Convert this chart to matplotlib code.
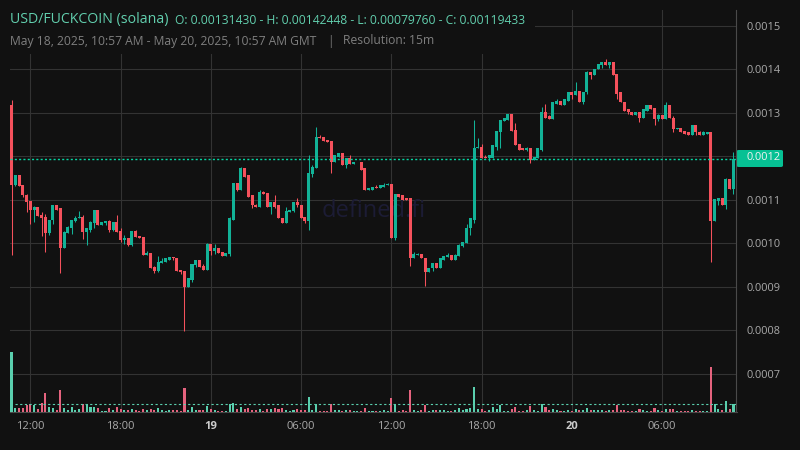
import numpy as np
import matplotlib
matplotlib.use("Agg")
import matplotlib.pyplot as plt
from matplotlib.patches import Rectangle, FancyBboxPatch

# Prices in units of 1e-4
opens_e4 = [
13.17,11.35,11.56,11.33,11.12,10.98,10.77,10.84,10.66,10.61,
10.24,10.53,10.89,10.80,9.88,10.24,10.36,10.52,10.57,10.61,
10.27,10.31,10.47,10.77,10.43,10.47,10.52,10.31,10.50,10.29,
10.08,10.13,9.97,10.29,10.17,10.15,9.74,9.78,9.46,9.37,
9.55,9.58,9.62,9.69,9.67,9.39,9.37,9.0,9.16,9.51,
9.62,9.48,9.39,9.99,9.83,9.90,9.81,9.71,9.76,10.54,
11.39,11.23,11.72,11.56,11.10,10.89,10.84,11.19,11.16,10.84,
10.96,10.87,10.59,10.47,10.73,10.75,10.96,10.89,10.61,10.52,
11.60,11.72,12.45,12.45,12.38,12.36,11.88,11.99,12.08,11.79,
11.97,11.83,11.86,11.88,11.72,11.23,11.23,11.30,11.26,11.30,
11.33,11.37,10.11,11.14,11.10,11.03,11.03,9.65,9.74,9.76,
9.67,9.35,9.42,9.55,9.42,9.62,9.69,9.74,9.62,9.71,
9.94,10.01,10.34,10.54,12.18,12.22,11.99,11.95,11.97,12.22,
12.57,12.82,12.84,12.98,12.61,12.29,12.18,12.15,12.20,11.92,
11.95,12.15,13.03,12.92,12.85,13.21,13.28,13.19,13.28,13.49,
13.42,13.51,13.26,13.47,13.95,13.86,14.0,14.11,14.18,14.11,
14.16,13.90,13.47,13.26,13.08,13.03,12.96,13.03,12.89,13.05,
13.17,13.10,12.85,12.96,12.85,13.19,12.89,12.62,12.66,12.59,
12.55,12.50,12.71,12.57,12.50,12.52,12.57,10.52,10.98,11.03,
10.87,11.47,11.24]
closes_e4 = [
11.35,11.56,11.31,11.10,10.96,10.77,10.84,10.63,10.59,10.24,
10.54,10.89,10.77,9.88,10.27,10.38,10.54,10.59,10.61,10.27,
10.34,10.50,10.77,10.43,10.50,10.52,10.31,10.50,10.27,10.08,
10.13,9.97,10.29,10.15,10.13,9.74,9.78,9.44,9.37,9.58,
9.60,9.65,9.69,9.65,9.37,9.35,9.0,9.19,9.53,9.62,
9.46,9.39,9.99,9.83,9.90,9.78,9.71,9.78,10.57,11.39,
11.23,11.72,11.53,11.07,10.87,10.84,11.19,11.14,10.84,10.96,
10.84,10.57,10.47,10.75,10.77,10.96,10.87,10.59,10.52,11.62,
11.76,12.45,12.43,12.36,12.34,11.88,12.02,12.08,11.79,11.97,
11.83,11.88,11.88,11.69,11.23,11.26,11.30,11.26,11.33,11.35,
11.37,10.11,11.14,11.07,11.00,11.0,9.65,9.76,9.76,9.65,
9.35,9.44,9.55,9.42,9.65,9.71,9.74,9.62,9.74,9.97,
10.04,10.36,10.57,12.20,12.22,11.97,11.95,12.02,12.25,12.59,
12.84,12.87,12.98,12.59,12.27,12.15,12.15,12.20,11.92,11.99,
12.18,13.03,12.89,12.85,13.24,13.28,13.19,13.31,13.49,13.42,
13.51,13.26,13.49,13.95,13.86,14.02,14.13,14.18,14.11,14.16,
13.88,13.44,13.24,13.05,13.01,12.96,13.03,12.89,13.08,13.17,
13.08,12.85,12.96,12.85,13.19,12.87,12.62,12.66,12.57,12.52,
12.50,12.71,12.55,12.50,12.55,12.57,10.52,11.01,11.03,10.87,
11.47,11.24,11.94]
highs_e4 = [
13.30,11.56,11.56,11.33,11.14,10.98,10.86,10.84,10.73,10.68,
10.54,10.89,10.89,10.82,10.29,10.40,10.54,10.63,10.75,10.66,
10.34,10.52,10.77,10.77,10.50,10.52,10.54,10.50,10.64,10.34,
10.20,10.13,10.29,10.31,10.17,10.15,9.83,9.78,9.48,9.71,
9.67,9.65,9.69,9.69,9.67,9.39,9.37,9.19,9.53,9.62,
9.62,9.53,10.01,9.99,9.99,9.90,9.81,9.78,10.61,11.39,
11.39,11.76,11.74,11.56,11.10,10.91,11.23,11.21,11.16,10.96,
11.10,10.87,10.59,10.84,10.77,10.96,11.05,10.89,10.61,12.02,
11.79,12.68,12.48,12.45,12.38,12.36,12.02,12.08,12.08,11.97,
12.04,11.88,11.88,11.88,11.72,11.26,11.30,11.33,11.33,11.39,
11.39,11.37,11.14,11.14,11.12,11.05,11.05,9.81,9.78,9.76,
9.67,9.44,9.55,9.55,9.65,9.71,9.78,9.74,9.76,9.99,
10.04,10.45,10.57,12.84,12.43,12.29,12.02,12.02,12.25,12.59,
12.84,12.87,12.98,12.98,12.77,12.29,12.18,12.22,12.20,11.99,
12.18,13.14,13.21,12.94,13.24,13.33,13.28,13.31,13.49,13.49,
13.72,13.51,13.49,13.97,13.95,14.02,14.13,14.18,14.25,14.18,
14.16,13.90,13.47,13.26,13.08,13.03,13.03,13.03,13.08,13.17,
13.17,13.10,12.98,12.96,13.24,13.19,12.92,12.66,12.66,12.59,
12.55,12.71,12.71,12.59,12.59,12.57,12.57,11.01,11.03,11.03,
11.49,11.47,12.09]
lows_e4 = [
9.72,11.31,11.31,11.06,10.71,10.44,10.48,10.63,10.16,9.81,
10.18,10.44,10.77,9.31,9.88,10.24,10.21,10.48,10.57,10.09,
9.95,10.25,10.34,10.43,10.43,10.43,10.27,10.29,10.27,10.04,
9.99,9.94,9.94,10.15,10.11,9.74,9.74,9.44,9.32,9.35,
9.55,9.58,9.62,9.62,9.37,9.30,7.976,9.0,9.12,9.46,
9.46,9.39,9.39,9.74,9.76,9.78,9.71,9.71,9.71,10.54,
11.21,11.23,11.53,11.07,10.82,10.84,10.84,11.14,10.84,10.68,
10.82,10.57,10.47,10.47,10.73,10.73,10.84,10.57,10.47,10.31,
11.53,11.72,12.43,12.36,12.34,11.62,11.88,11.99,11.79,11.74,
11.83,11.83,11.86,11.69,11.23,11.23,11.23,11.26,11.26,11.30,
11.33,10.11,10.08,11.07,11.00,11.00,9.47,9.65,9.74,9.65,
9.02,9.35,9.37,9.42,9.42,9.62,9.69,9.62,9.62,9.71,
9.92,10.01,10.20,10.47,12.18,11.97,11.95,11.90,11.95,12.15,
12.20,12.82,12.84,12.59,12.27,12.15,12.15,12.13,11.85,11.92,
11.95,12.13,12.89,12.85,12.85,13.21,13.19,13.19,13.28,13.33,
13.42,13.26,13.21,13.44,13.79,13.86,14.0,14.04,14.11,14.04,
13.88,13.33,13.24,13.05,12.98,12.96,12.96,12.78,12.89,13.05,
13.08,12.71,12.82,12.85,12.85,12.87,12.55,12.62,12.55,12.52,
12.50,12.50,12.50,12.50,12.50,12.52,9.58,10.52,10.87,10.87,
10.78,11.24,11.14]
volumes = [
182,12,12,12,21,24,21,9,27,57,
15,12,6,66,12,6,15,6,9,24,
24,15,15,12,3,3,12,6,15,9,
6,6,9,6,3,9,6,9,6,12,
6,3,6,6,6,3,72,6,15,6,
6,6,18,9,6,3,3,3,24,27,
9,15,9,12,6,6,9,3,9,9,
12,9,12,6,3,6,9,6,6,45,
6,24,3,3,3,24,6,6,3,6,
6,3,3,3,12,3,3,3,3,6,
3,42,24,3,6,3,66,6,3,6,
21,3,6,6,6,6,3,3,6,12,
6,9,12,75,9,9,3,6,15,9,
21,3,3,9,15,3,3,6,18,6,
3,24,15,6,9,6,3,3,6,3,
9,6,6,12,6,6,6,6,3,6,
6,21,6,6,3,3,3,9,6,3,
3,12,6,3,9,9,9,3,3,3,
3,6,3,3,3,3,136,24,9,6,
33,9,24]
volume_level = 24
last_price_e4 = 11.94
y_ticks = [0.0007, 0.0008, 0.0009, 0.0010, 0.0011, 0.0012, 0.0013, 0.0014, 0.0015]
x_tick_pos = [5, 29, 53, 77, 101, 125, 149, 173]
x_tick_labels = ["12:00", "18:00", "19", "06:00", "12:00", "18:00", "20", "06:00"]
x_tick_bold = ["19", "20"]

BG = "#111111"; GRID = "#333333"; BORDER = "#4a4a4a"
UP = "#12b297"; DOWN = "#f5515c"; VUP = "#5acfae"; VDOWN = "#e5637e"
LAST = "#05d6a2"; TEAL_TXT = "#62cfae"; GRAY = "#7f7f7f"; TICK = "#aaaaaa"
plt.rcParams["font.family"] = ["Open Sans", "DejaVu Sans"]

W, H = 800, 450
fig = plt.figure(figsize=(W/100, H/100), dpi=100, facecolor=BG)
L, R, T, B = 10, 736.5, 10, 412.3
pos = [L/W, 1-B/H, (R-L)/W, (B-T)/H]
ax = fig.add_axes(pos, facecolor=BG)

O = np.array(opens_e4)*1e-4; C = np.array(closes_e4)*1e-4
Hi = np.array(highs_e4)*1e-4; Lo = np.array(lows_e4)*1e-4
V = np.array(volumes, dtype=float)
x = np.arange(len(O))
up = C >= O

ax.set_xlim(-0.4, 192.8)
ax.set_ylim(6.111e-4, 15.366e-4)
ax.set_axisbelow(True)
ax.grid(True, color=GRID, lw=0.8)
ax.yaxis.tick_right()
ax.set_yticks(y_ticks)
ax.set_yticklabels([f"{v:.4f}" for v in y_ticks], color=TICK, fontsize=7.9)
ax.set_xticks(x_tick_pos)
ax.set_xticklabels(x_tick_labels, color=TICK, fontsize=8.0)
for lab in ax.get_xticklabels():
    if lab.get_text() in x_tick_bold:
        lab.set_fontweight("bold"); lab.set_color("#cccccc")
ax.tick_params(length=0, axis="y", pad=7)
ax.tick_params(length=0, axis="x", pad=6)
for s in ["top", "left"]:
    ax.spines[s].set_visible(False)
for s in ["right", "bottom"]:
    ax.spines[s].set_color(BORDER); ax.spines[s].set_linewidth(0.8)

# header panel hides the grid behind the titles
ax.add_patch(Rectangle((0, (B-54)/(B-T)), (535-L)/(R-L), (54-T)/(B-T), transform=ax.transAxes,
                       fc=BG, ec="none", zorder=1.5))
ax.text(0.501, 0.5015, "defined.fi", transform=ax.transAxes, color="#1c1c35", fontsize=17,
        ha="center", va="center", zorder=1)

colors = np.where(up, UP, DOWN)
ax.vlines(x, Lo, Hi, colors=colors, lw=0.75, zorder=3)
ax.bar(x, np.maximum(np.abs(C-O), 1e-6), bottom=np.minimum(O, C), width=0.8, color=colors, linewidth=0, zorder=4)
ax.axhline(last_price_e4*1e-4, color=LAST, lw=1.0, ls=(0, (1.5, 1.6)), zorder=5)
ax.set_xlim(-0.4, 192.8)
ax.set_ylim(6.111e-4, 15.366e-4)

# volumes on their own scale, in a transparent axes with the same frame
axv = fig.add_axes(pos, facecolor="none")
axv.set_xlim(-0.4, 192.8)
axv.set_ylim(0, (B-T)*3)
axv.axis("off")
vol_up = up.copy(); vol_up[0] = True
axv.bar(x, V, width=0.55, color=np.where(vol_up, VUP, VDOWN), linewidth=0, zorder=2)
axv.plot([1, 192.8], [volume_level, volume_level], color=VUP, lw=0.8, ls=(0, (2, 2.2)), zorder=3)

fig.patches.append(FancyBboxPatch((736.5/W, 1-167/H), 46.5/W, 17/H, boxstyle="round,pad=0,rounding_size=0.003",
                    transform=fig.transFigure, fc="#06c194", ec="none", figure=fig, zorder=-1))
for lab in ax.get_yticklabels():
    if lab.get_text() == "0.0012":
        lab.set_color("#f2f2f2")

fig.text(10/W, 1-20/H, "USD/FUCKCOIN (solana)", color=TEAL_TXT, fontsize=10.2, va="center")
fig.text(175/W, 1-20/H, "O: 0.00131430 - H: 0.00142448 - L: 0.00079760 - C: 0.00119433",
         color=TEAL_TXT, fontsize=8.72, va="center")
fig.text(10/W, 1-41/H, "May 18, 2025, 10:57 AM - May 20, 2025, 10:57 AM GMT", color=GRAY, fontsize=8.75, va="center")
fig.text(327/W, 1-41/H, "|", color=GRAY, fontsize=8.6, va="center")
fig.text(343/W, 1-41/H, "Resolution: 15m", color=GRAY, fontsize=8.7, va="center")

fig.savefig("out.png", dpi=100, facecolor=BG)
